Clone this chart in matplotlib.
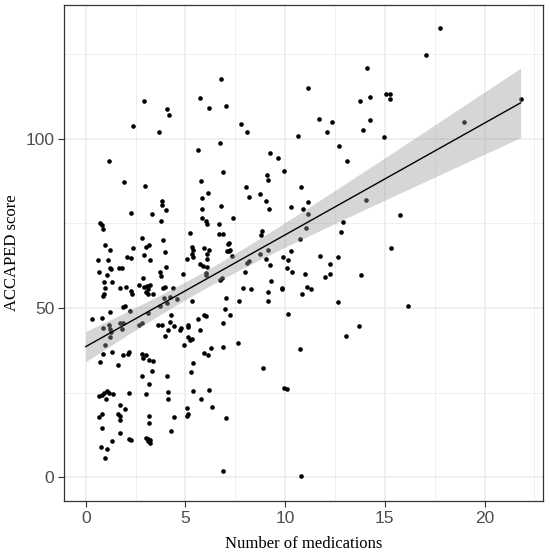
import numpy as np
import matplotlib
matplotlib.use("Agg")
import matplotlib.pyplot as plt
from matplotlib.ticker import MultipleLocator

# Number of medications (x) and ACCAPED score (y)
n_medications = [
    1.19, 1.91, 2.98, 2.27, 3.33, 3.83, 3.83, 4.04, 3.77, 5.65, 5.80, 6.14, 5.85, 5.85, 5.85, 6.03, 6.08,
    0.73, 0.81, 0.84, 2.80, 3.85, 5.22, 0.96, 1.23, 2.37, 3.00, 3.15, 2.92, 3.95, 5.35, 5.39, 5.32, 5.37,
    5.94, 6.09, 6.06, 5.10, 0.59, 1.11, 2.05, 2.25, 3.20, 4.04, 1.23, 1.26, 1.66, 1.81, 0.68, 1.06, 3.70,
    3.77, 4.90, 5.72, 5.87, 6.08, 6.03, 6.04, 0.89, 1.31, 2.85, 1.73, 2.02, 2.25, 2.33, 2.68, 2.93, 3.05,
    3.10, 3.23, 3.00, 3.10, 3.35, 3.88, 3.95, 4.35, 0.98, 0.93, 0.88, 4.20, 3.93, 4.57, 5.34, 1.89, 1.98,
    2.20, 1.23, 3.73, 4.07, 3.10, 4.29, 0.81, 0.31, 5.95, 6.03, 5.65,
    0.84, 1.19, 1.23, 1.26, 1.74, 1.89, 1.83, 1.23, 0.98, 2.65, 2.82, 3.60, 3.82, 4.24, 4.10, 4.40, 3.95,
    4.74, 4.80, 5.12, 5.15, 5.75, 5.15, 5.24, 5.32, 4.95, 0.86, 1.31, 0.69, 1.61, 1.88, 2.13, 2.18, 2.83,
    3.00, 2.85, 3.18, 3.37, 3.33, 2.83, 3.18, 4.07, 5.39, 5.29, 5.94, 6.11, 0.66, 0.81, 0.89, 1.06, 1.16,
    1.01, 1.36, 2.18, 3.00, 4.14, 4.14, 5.37, 5.79, 6.16, 0.64, 0.81, 1.74, 1.96, 1.61, 1.73, 1.74, 3.15,
    3.18, 4.40, 5.09, 5.15, 5.09, 0.79, 1.71, 1.33, 2.18, 2.27, 3.00, 3.13, 3.20, 3.23, 3.10, 4.27, 0.74,
    1.04, 0.94,
    6.78, 5.74, 6.16, 7.01, 7.81, 8.11, 11.14, 11.69, 12.34, 12.09, 10.65, 6.74, 9.25, 9.63, 9.93, 12.69,
    13.12, 6.86, 6.76, 8.06, 8.18, 9.11, 9.16, 8.75, 9.03, 9.18, 10.77, 10.29, 10.87, 11.17, 7.38, 6.66,
    6.66, 6.88, 7.19, 7.14, 7.08, 7.16, 7.24, 6.19, 7.33, 8.86, 8.80, 8.76, 9.15, 10.29, 9.91, 10.12,
    11.14, 11.05, 10.72, 12.91, 12.79, 11.77, 12.67, 9.06,
    6.74, 6.81, 8.08, 8.20, 8.01, 9.23, 9.30, 10.07, 10.35, 11.02, 11.12, 11.32, 10.84, 12.27, 12.27,
    12.00, 12.66, 7.91, 8.31, 7.68, 9.16, 9.16, 9.83, 9.86, 7.01, 6.98, 7.24, 6.86, 10.14, 7.63, 6.89,
    6.29, 10.74, 13.06, 8.91, 6.33, 7.01, 9.96, 10.07, 6.88, 10.77,
    17.75, 17.05, 14.11, 13.77, 14.25, 15.06, 15.26, 15.26, 14.25, 13.91, 14.98, 18.96, 21.81, 14.04,
    15.78, 15.30, 13.79, 16.18, 13.69,
    2.90, 4.07, 4.19, 2.37, 3.68,
]
accaped_score = [
    93.3, 87.1, 86.0, 78.1, 77.9, 81.5, 80.4, 79.0, 75.6, 96.6, 87.5, 84.0, 82.6, 79.2, 76.7, 75.6, 74.7,
    75.2, 74.4, 73.4, 70.8, 70.2, 72.2, 68.5, 67.1, 67.7, 67.9, 68.5, 65.7, 66.6, 68.0, 67.1, 66.1, 65.1,
    67.7, 66.1, 64.6, 64.6, 64.1, 64.3, 65.1, 64.8, 64.3, 62.2, 61.7, 61.4, 61.7, 61.7, 60.6, 59.6, 60.5,
    59.4, 59.9, 63.1, 62.3, 62.1, 60.4, 59.8, 57.8, 57.7, 58.9, 55.8, 56.1, 55.0, 54.2, 56.7, 56.1, 56.4,
    55.6, 56.9, 54.7, 54.0, 54.2, 55.8, 56.3, 56.0, 55.8, 54.1, 53.6, 53.3, 52.8, 52.6, 52.0, 50.3, 50.7,
    49.0, 48.7, 50.7, 51.5, 48.4, 47.9, 46.9, 46.6, 47.9, 47.6, 46.7,
    44.0, 44.9, 43.7, 42.9, 45.6, 45.7, 43.7, 41.4, 39.2, 44.9, 45.7, 45.1, 45.1, 45.9, 43.6, 44.6, 41.7,
    43.6, 44.0, 44.9, 44.3, 43.4, 41.3, 40.5, 40.7, 39.0, 36.3, 36.9, 33.9, 33.0, 36.1, 36.5, 37.0, 36.5,
    36.1, 35.1, 34.6, 34.3, 31.5, 30.0, 27.6, 30.0, 33.7, 31.0, 36.7, 36.0, 23.9, 24.4, 24.9, 25.5, 24.9,
    23.2, 24.7, 24.8, 24.7, 25.3, 23.1, 25.6, 23.0, 25.7, 17.7, 18.6, 21.2, 20.0, 18.7, 18.0, 16.9, 18.2,
    16.0, 17.7, 20.5, 18.7, 18.0, 14.5, 13.0, 10.6, 11.3, 11.0, 11.7, 11.4, 10.9, 10.0, 10.7, 13.6, 9.0,
    8.2, 5.7,
    117.8, 112.2, 109.0, 109.7, 104.4, 102.1, 115.0, 106.0, 105.0, 101.9, 100.7, 98.9, 95.7, 94.2, 90.6,
    98.0, 93.3, 90.1, 80.1, 85.9, 82.7, 89.4, 87.7, 83.6, 81.7, 79.4, 85.7, 79.8, 79.2, 81.3, 76.6, 74.7,
    71.8, 71.8, 69.1, 68.8, 66.9, 66.9, 67.0, 67.1, 65.5, 72.9, 71.7, 66.0, 67.0, 66.8, 65.1, 64.1,
    77.7, 73.6, 70.3, 75.3, 72.6, 65.3, 65.1, 64.6,
    58.2, 58.9, 63.3, 63.8, 60.6, 62.6, 57.9, 61.9, 60.6, 60.1, 56.3, 55.6, 54.0, 63.1, 60.0,
    59.1, 51.7, 55.9, 55.5, 52.1, 54.6, 52.1, 56.0, 55.5, 53.0, 49.6, 47.9, 45.7, 48.1, 39.7, 38.6,
    38.2, 37.9, 41.7, 32.2, 20.8, 17.5, 26.3, 25.9, 1.9, 0.3,
    132.9, 124.8, 120.9, 111.1, 112.3, 113.2, 113.2, 111.7, 105.7, 102.7, 100.4, 104.9, 111.9, 82.0,
    77.6, 67.7, 59.6, 50.6, 44.8,
    111.2, 108.9, 106.9, 103.7, 102.1,
]

x_ticks = [0, 5, 10, 15, 20]
y_ticks = [0, 50, 100]
x_title = "Number of medications"
y_title = "ACCAPED score"
x_domain = [0, 21.84]       # range of the medication count (fit line drawn over it)
y_domain = [-0.4, 132.9]

x = np.asarray(n_medications)
y = np.asarray(accaped_score)

# linear fit with 95% confidence band (like geom_smooth(method="lm"))
n = len(x)
b1, b0 = np.polyfit(x, y, 1)
xs = np.linspace(x_domain[0], x.max(), 200)
yhat = b0 + b1 * xs
resid = y - (b0 + b1 * x)
s = np.sqrt(np.sum(resid ** 2) / (n - 2))
sxx = np.sum((x - x.mean()) ** 2)
se = s * np.sqrt(1.0 / n + (xs - x.mean()) ** 2 / sxx)
tval = 1.968
lo, hi = yhat - tval * se, yhat + tval * se

fig = plt.figure(figsize=(5.5, 5.52), dpi=100)
ax = fig.add_axes([64 / 550, 1 - 501 / 552, (543 - 64) / 550, (501 - 5) / 552])

ax.scatter(x, y, s=11, color="black", linewidths=0, zorder=3)
ax.fill_between(xs, lo, hi, color="#999999", alpha=0.4, linewidth=0, zorder=4)
ax.plot(xs, yhat, color="black", lw=1.0, zorder=5)

rng_x = x_domain[1] - x_domain[0]
rng_y = y_domain[1] - y_domain[0]
ax.set_xlim(x_domain[0] - 0.05 * rng_x, x_domain[1] + 0.05 * rng_x)
ax.set_ylim(y_domain[0] - 0.05 * rng_y, y_domain[1] + 0.05 * rng_y)

ax.set_xticks(x_ticks)
ax.set_yticks(y_ticks)
ax.xaxis.set_minor_locator(MultipleLocator(2.5))
ax.yaxis.set_minor_locator(MultipleLocator(25))
ax.grid(which="major", color="#EBEBEB", lw=1.1, zorder=0)
ax.grid(which="minor", color="#EBEBEB", lw=0.55, zorder=0)
ax.set_axisbelow(True)
ax.tick_params(which="minor", length=0)
ax.tick_params(which="major", length=4, width=0.8, color="#333333",
               labelsize=12.5, labelcolor="#4D4D4D", pad=3)
for lab in ax.get_xticklabels() + ax.get_yticklabels():
    lab.set_family(["Liberation Sans", "DejaVu Sans"])
for sp in ax.spines.values():
    sp.set_color("#333333")
    sp.set_linewidth(0.9)

ax.set_xlabel(x_title, family=["Liberation Serif", "DejaVu Serif"], fontsize=12, va="center")
ax.set_ylabel(y_title, family=["Liberation Serif", "DejaVu Serif"], fontsize=12, va="center")
ax.xaxis.set_label_coords(0.5, (501 - 544) / 496)
ax.yaxis.set_label_coords((12 - 64) / 479, 0.5)

fig.savefig("out.png", dpi=100)
